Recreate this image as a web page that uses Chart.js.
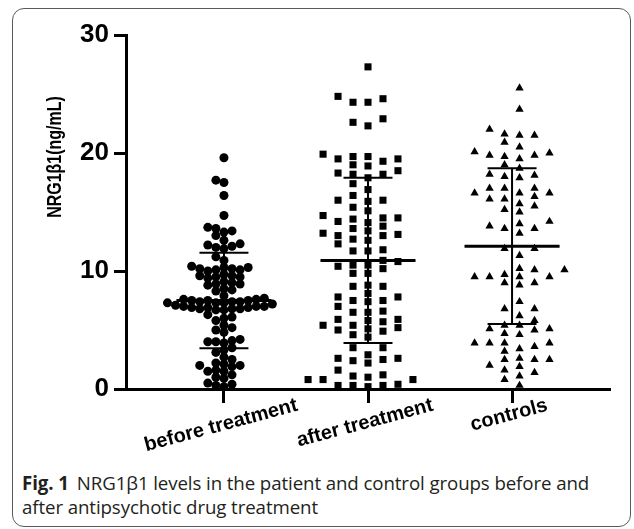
<!DOCTYPE html>
<html><head><meta charset="utf-8">
<script src="https://cdn.jsdelivr.net/npm/chart.js@4.4.1/dist/chart.umd.min.js"></script>
<style>
html,body{margin:0;padding:0;background:#fff;}
body{width:634px;height:529px;position:relative;overflow:hidden;}
#frame{position:absolute;left:12px;top:8px;width:619px;height:519px;border:1px solid #5a5a5a;border-radius:12px;box-sizing:border-box;}
#wrap{position:absolute;left:0;top:0;width:634px;height:455px;}
#caption{position:absolute;left:22px;top:471px;width:608px;font-family:"Open Sans",sans-serif;font-size:18.7px;line-height:24px;color:#231f20;white-space:nowrap;letter-spacing:-0.1px;}
#caption b{margin-right:8px;}
</style></head>
<body>
<div id="frame"></div>
<div id="wrap"><canvas id="c" width="634" height="455"></canvas></div>
<div id="caption"><b>Fig. 1</b>NRG1β1 levels in the patient and control groups before and<br>after antipsychotic drug treatment</div>
<script>
// ---- data ----
const categories = ["before treatment", "after treatment", "controls"];
const yTicks = [0, 10, 20, 30];
const yTitle = "NRG1\u03B21(ng/mL)";

const beforeTreatment = [19.6, 17.7, 17.5, 16.4, 14.7, 13.7, 13.6, 13.4, 13.3, 13.0, 12.6, 12.3, 12.2, 12.1, 12.0, 11.9,
  11.2, 10.9, 10.4, 10.3, 10.3, 10.2, 10.2, 10.1, 10.1, 10.0, 9.7, 9.6, 9.6, 9.5, 9.5, 9.4,
  9.1, 9.0, 8.9, 8.9, 8.8, 8.5, 8.4, 8.3,
  7.9, 7.7, 7.6, 7.6, 7.5, 7.5, 7.5, 7.4, 7.4, 7.4, 7.3, 7.3, 7.3, 7.2,
  7.1, 7.0, 7.0, 7.0, 6.9, 6.9, 6.9, 6.8, 6.8, 6.8, 6.7, 6.7,
  6.3, 6.1, 6.0, 5.8, 5.4, 5.2, 5.0, 4.8, 4.2, 4.1, 4.0, 4.0, 3.9, 3.5, 3.3, 3.1, 2.7, 2.5,
  2.2, 2.1, 2.0, 2.0, 1.9, 1.6, 1.5, 1.5, 1.2, 1.0, 0.9, 0.5, 0.4, 0.3, 0.2];

const afterTreatment = [27.3, 24.8, 24.6, 24.3, 24.3, 22.9, 22.6, 22.3,
  19.9, 19.7, 19.7, 19.5, 19.5, 19.3, 19.0, 18.9, 18.5, 18.3, 18.2, 18.2, 17.9, 17.4, 16.9, 16.4, 16.0, 16.0, 15.9, 15.4, 15.1,
  14.7, 14.5, 14.5, 14.4, 14.2, 14.1, 13.8, 13.6, 13.4, 13.2, 13.1, 13.0, 13.0, 12.7, 12.6, 12.3, 11.8, 11.7, 11.7,
  10.9, 10.8, 10.5, 10.5, 10.4, 10.2, 9.8, 9.8, 8.8, 8.7, 8.7, 8.1, 7.8, 7.8, 7.5, 7.5, 7.4, 7.0, 6.6, 6.5, 6.5,
  5.9, 5.9, 5.8, 5.7, 5.4, 5.4, 5.2, 5.1, 5.0, 4.9, 4.6, 4.4, 3.5, 3.5, 2.9, 2.6, 2.6, 2.5, 2.4, 2.2,
  1.6, 1.2, 1.1, 1.0, 0.8, 0.8, 0.8, 0.4, 0.3, 0.3, 0.3, 0.2];

const controls = [25.5, 23.7, 22.0, 21.5, 21.5, 21.6, 20.9, 20.5, 20.1, 20.0, 19.8, 19.8, 19.5, 19.7, 19.0, 18.7,
  18.1, 18.0, 18.2, 17.9, 17.0, 16.6, 16.1, 16.6, 15.7, 15.2, 17.0, 16.3, 15.0, 17.0, 16.1, 15.5, 16.6,
  14.0, 13.6, 14.2, 13.8, 13.2, 13.6, 11.9, 11.9, 11.3, 10.2, 9.5, 9.5, 8.8, 9.7, 9.0, 10.1, 9.5, 10.1, 9.5, 9.0,
  7.4, 6.8, 6.8, 6.2, 5.4, 5.1, 5.1, 4.6, 5.4, 4.7, 5.8, 5.0, 3.9, 3.9, 3.2, 3.6, 3.9, 3.9,
  2.5, 2.5, 1.6, 2.0, 2.5, 0.8, 1.9, 1.4, 1.1, 0.3, 2.6, 3.4];

const groupMeans = [7.5, 10.9, 12.1];
const groupSDs = [4.05, 7.0, 6.6];

// ---- layout helpers ----
function swarm(values, center, stepX, thrY, shift) {
  const sorted = values.slice().sort((a, b) => a - b);
  const placed = [];
  return sorted.map(v => {
    let slot = 0;
    for (let i = 0; ; i++) {
      const s = i === 0 ? 0 : (i % 2 ? -Math.ceil(i / 2) : Math.ceil(i / 2));
      if (!placed.some(p => p.slot === s && Math.abs(p.y - v) < thrY)) { slot = s; break; }
    }
    placed.push({ slot, y: v });
    return { x: center + (slot + shift) * stepX, y: v };
  });
}
function seg(x1, y1, x2, y2, w) {
  return { type: 'line', data: [{ x: x1, y: y1 }, { x: x2, y: y2 }], borderColor: '#000', borderWidth: w,
    pointRadius: 0, fill: false, clip: false, order: 0 };
}

const groups = [beforeTreatment, afterTreatment, controls];
const styles = [
  { pointStyle: 'circle', radius: 4.5, step: 0.056, thr: 0.55, shift: 0 },
  { pointStyle: 'rect', radius: 5, step: 0.104, thr: 0.62, shift: 0 },
  { pointStyle: 'triangle', radius: 4.8, step: 0.104, thr: 0.62, shift: 0.5 }
];
const datasets = [];
groups.forEach((g, i) => {
  const st = styles[i];
  datasets.push({ type: 'scatter', label: categories[i], data: swarm(g, i, st.step, st.thr, st.shift),
    pointStyle: st.pointStyle, pointRadius: st.radius, pointHoverRadius: st.radius,
    backgroundColor: '#000', borderColor: '#000', borderWidth: 0, clip: false, order: 1 });
});
groups.forEach((g, i) => {
  const m = groupMeans[i], sd = groupSDs[i];
  datasets.push(seg(i - 0.33, m, i + 0.33, m, 3));
  datasets.push(seg(i - 0.17, m + sd, i + 0.17, m + sd, 2));
  datasets.push(seg(i - 0.17, m - sd, i + 0.17, m - sd, 2));
  datasets.push(seg(i, m - sd, i, m + sd, 2));
});

const labelFont = 'bold 20px "Liberation Sans", Arial, sans-serif';
const labelAngle = 15 * Math.PI / 180;
const overlay = {
  id: 'overlay',
  afterDraw(chart) {
    const ctx = chart.ctx, xs = chart.scales.x;
    ctx.save();
    ctx.fillStyle = '#000';
    ctx.font = labelFont;
    ctx.textAlign = 'center';
    ctx.textBaseline = 'middle';
    categories.forEach((c, i) => {
      const w = ctx.measureText(c).width;
      const px = xs.getPixelForValue(i) - 3;
      const py = 405 + (w / 2) * Math.sin(labelAngle);
      ctx.save();
      ctx.translate(px, py);
      ctx.rotate(-labelAngle);
      ctx.fillText(c, 0, 0);
      ctx.restore();
    });
    ctx.font = 'bold 19.5px "Liberation Sans", Arial, sans-serif';
    ctx.translate(56, 157);
    ctx.rotate(-Math.PI / 2);
    ctx.scale(0.82, 1);
    ctx.fillText(yTitle, 0, 0);
    ctx.restore();
  }
};

new Chart(document.getElementById('c'), {
  data: { datasets },
  options: {
    responsive: false,
    animation: false,
    events: [],
    layout: { padding: { left: 0, right: 24, top: 35, bottom: 0 } },
    plugins: { legend: { display: false }, tooltip: { enabled: false } },
    scales: {
      x: {
        type: 'linear', min: -0.68, max: 2.68,
        afterBuildTicks: s => { s.ticks = categories.map((c, i) => ({ value: i })); },
        afterFit: s => { s.height = 455 - 389; },
        ticks: { callback: () => '', padding: 0 },
        grid: { display: true, drawOnChartArea: false, drawTicks: true, tickLength: 14, tickWidth: 3, tickColor: '#000' },
        border: { display: true, color: '#000', width: 3 }
      },
      y: {
        type: 'linear', min: 0, max: 30,
        afterBuildTicks: s => { s.ticks = yTicks.map(v => ({ value: v })); },
        afterFit: s => { s.width = 126; },
        ticks: { color: '#000', padding: 5, font: { family: '"Liberation Sans", Arial, sans-serif', size: 26, weight: 'bold' } },
        grid: { display: true, drawOnChartArea: false, drawTicks: true, tickLength: 12, tickWidth: 3, tickColor: '#000' },
        border: { display: true, color: '#000', width: 3 }
      }
    }
  },
  plugins: [overlay]
});
</script>
</body></html>
